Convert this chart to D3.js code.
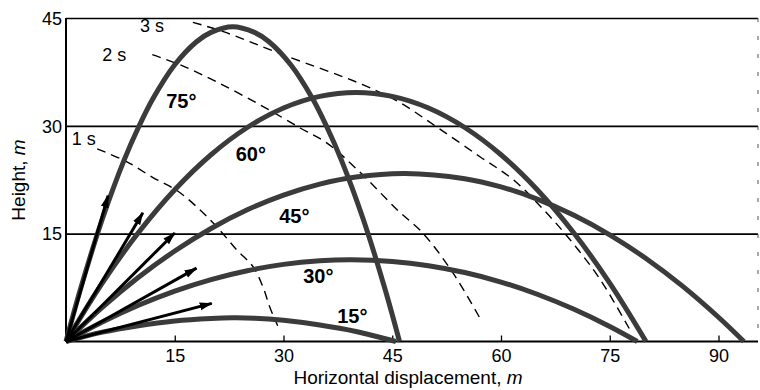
<!DOCTYPE html>
<html>
<head>
<meta charset="utf-8">
<script src="https://cdn.jsdelivr.net/npm/d3@7/dist/d3.min.js"></script>
<style>
body { margin: 0; background: #fff; }
text { font-family: "Liberation Sans", Arial, sans-serif; fill: #000; }
</style>
</head>
<body>
<div id="chart"></div>
<script>
// values, metres [x, height]
var angleNames = ["15°", "30°", "45°", "60°", "75°"];
var path15 = [[0,0],[5,1.3],[10,2.2],[15,2.85],[20,3.2],[23,3.3],[26,3.25],[30,2.95],[35,2.3],[40,1.4],[45.5,0]];
var path30 = [[0,0],[5,2.7],[10,5.04],[15,7.01],[20,8.62],[25,9.85],[30,10.73],[35,11.23],[39.4,11.37],[45,11.14],[50,10.55],[55,9.59],[60,8.27],[65,6.57],[70,4.51],[75,2.09],[78.8,0]];
var path45 = [[0,0],[5,4.73],[10,8.93],[15,12.59],[20,15.72],[25,18.32],[30,20.37],[35,21.9],[40,22.89],[46.75,23.38],[55,22.65],[60,21.5],[65,19.81],[70,17.59],[75,14.84],[80,11.55],[85,7.73],[90,3.37],[93.5,0]];
var path60 = [[0,0],[5,8.12],[10,15.16],[15,21.11],[20,25.98],[25,29.77],[30,32.48],[35,34.1],[40,34.64],[45,34.1],[50,32.48],[55,29.77],[60,25.98],[65,21.11],[70,15.16],[75,8.12],[80,0]];
var path75 = [[0,0],[2,7.3],[5,17],[8,25.2],[10,29.8],[12,33.8],[15,38.5],[18,41.7],[20,43],[23,43.8],[26,43],[28,41.7],[31,38.5],[34,33.8],[36,29.8],[38,25.2],[41,17],[44,7.3],[46,0]];

// equal-time curves (dashed)
var timeNames = ["1 s", "2 s", "3 s"];
var time1 = [[4.3,26.8],[8.4,25],[12,22.8],[15.3,21],[18.5,18.3],[21.2,15.5],[23.6,12.7],[25.8,10.4],[27.2,7.5],[28.1,4.8],[29.2,2.2]];
var time2 = [[11.9,39.9],[15.7,38.5],[20.8,36.1],[26.8,32.9],[32.3,29.7],[36,27.6],[40.6,23.5],[45.7,18.3],[49.2,15.1],[53.4,9.5],[57.4,2.7]];
var time3 = [[17.5,44.4],[21.7,43.1],[29.9,39.9],[41,35.7],[46.1,33.2],[51.2,29.8],[57.1,25.7],[61.7,22.5],[66,18.2],[69.9,13.7],[73.7,8.6],[77.8,1.6]];

// launch velocity arrows (tips)
var arrowTips = [[20.1,5.3],[18,10.2],[15,15.1],[10.6,17.9],[5.8,20.3]];

var xTicks = [15, 30, 45, 60, 75, 90];
var yTicks = [15, 30, 45];

var paths = [path15, path30, path45, path60, path75];
var times = [time1, time2, time3];

// label anchors, in metres
var angleLabelAt = [[39.5,2.6],[34.8,8.1],[31.5,16.5],[25.5,25.1],[15.9,32.5]];
var timeLabelAt = [[0.8,27.4],[5.0,39.0],[10.2,43.0]];

var svg_width = 760, svg_height = 390;

var svg = d3.select("#chart").append("svg")
	.attr("width", svg_width)
	.attr("height", svg_height);

var x = d3.scaleLinear().domain([0, 90]).range([66, 718.5]);
var y = d3.scaleLinear().domain([0, 45]).range([341.5, 18]);
var rightEdge = 758;

var defs = svg.append("defs");
defs.append("marker")
	.attr("id", "head")
	.attr("markerUnits", "userSpaceOnUse")
	.attr("viewBox", "0 -5 14 10")
	.attr("refX", 12).attr("refY", 0)
	.attr("markerWidth", 14).attr("markerHeight", 10)
	.attr("orient", "auto")
	.append("path")
	.attr("d", "M0,-4L13,0L0,4Z")
	.style("fill", "#000");

// grid lines + y labels
var yAxis = d3.axisLeft(y)
	.tickValues(yTicks)
	.tickSize(-(rightEdge - 66))
	.tickPadding(4)
	.tickFormat(d3.format("d"));

var gy = svg.append("g")
	.attr("transform", "translate(66,0)")
	.call(yAxis);
gy.select(".domain").remove();
gy.selectAll(".tick line").style("stroke", "#000").style("stroke-width", 1.6);
gy.selectAll(".tick text").style("font-size", "18px").attr("dy", "0.35em");

// x axis, ticks pointing inward
var xAxis = d3.axisBottom(x)
	.tickValues(xTicks)
	.tickSize(-6)
	.tickPadding(8)
	.tickFormat(d3.format("d"));

var gx = svg.append("g")
	.attr("transform", "translate(0," + y(0) + ")")
	.call(xAxis);
gx.select(".domain").remove();
gx.selectAll(".tick line").style("stroke", "#000").style("stroke-width", 1.3);
gx.selectAll(".tick text").style("font-size", "18px");

// frame
svg.append("line")
	.attr("x1", 66).attr("x2", rightEdge)
	.attr("y1", y(0)).attr("y2", y(0))
	.style("stroke", "#000").style("stroke-width", 2);
svg.append("line")
	.attr("x1", 66).attr("x2", 66)
	.attr("y1", y(45)).attr("y2", y(0))
	.style("stroke", "#000").style("stroke-width", 2);
svg.append("line")
	.attr("x1", rightEdge).attr("x2", rightEdge)
	.attr("y1", y(45)).attr("y2", y(0))
	.style("stroke", "#555").style("stroke-width", 1)
	.style("stroke-dasharray", "4,14");

var line = d3.line()
	.x(function(d) { return x(d[0]); })
	.y(function(d) { return y(d[1]); })
	.curve(d3.curveCatmullRom);

// dashed equal-time curves
svg.selectAll("path.time")
	.data(times)
	.enter().append("path")
	.attr("class", "time")
	.attr("d", line)
	.style("fill", "none")
	.style("stroke", "#000")
	.style("stroke-width", 1.4)
	.style("stroke-dasharray", "9,6");

// trajectories
svg.selectAll("path.traj")
	.data(paths)
	.enter().append("path")
	.attr("class", "traj")
	.attr("d", line)
	.style("fill", "none")
	.style("stroke", "#3b3b3b")
	.style("stroke-width", 5);

// velocity arrows
svg.selectAll("line.arrow")
	.data(arrowTips)
	.enter().append("line")
	.attr("class", "arrow")
	.attr("x1", x(0)).attr("y1", y(0))
	.attr("x2", function(d) { return x(d[0]); })
	.attr("y2", function(d) { return y(d[1]); })
	.style("stroke", "#000")
	.style("stroke-width", 3)
	.attr("marker-end", "url(#head)");

// angle labels
svg.selectAll("text.angle")
	.data(angleNames)
	.enter().append("text")
	.attr("class", "angle")
	.attr("x", function(d, i) { return x(angleLabelAt[i][0]); })
	.attr("y", function(d, i) { return y(angleLabelAt[i][1]); })
	.style("text-anchor", "middle")
	.style("font-size", "20px")
	.style("font-weight", "bold")
	.text(function(d) { return d; });

// time labels
svg.selectAll("text.tlabel")
	.data(timeNames)
	.enter().append("text")
	.attr("class", "tlabel")
	.attr("x", function(d, i) { return x(timeLabelAt[i][0]); })
	.attr("y", function(d, i) { return y(timeLabelAt[i][1]); })
	.style("font-size", "18px")
	.text(function(d) { return d; });

// axis titles
var xt = svg.append("text")
	.attr("x", 408).attr("y", 384)
	.style("text-anchor", "middle")
	.style("font-size", "19px");
xt.append("tspan").text("Horizontal displacement, ");
xt.append("tspan").style("font-style", "italic").text("m");

var yt = svg.append("text")
	.attr("transform", "translate(25,180) rotate(-90)")
	.style("text-anchor", "middle")
	.style("font-size", "19px");
yt.append("tspan").text("Height, ");
yt.append("tspan").style("font-style", "italic").text("m");
</script>
</body>
</html>
